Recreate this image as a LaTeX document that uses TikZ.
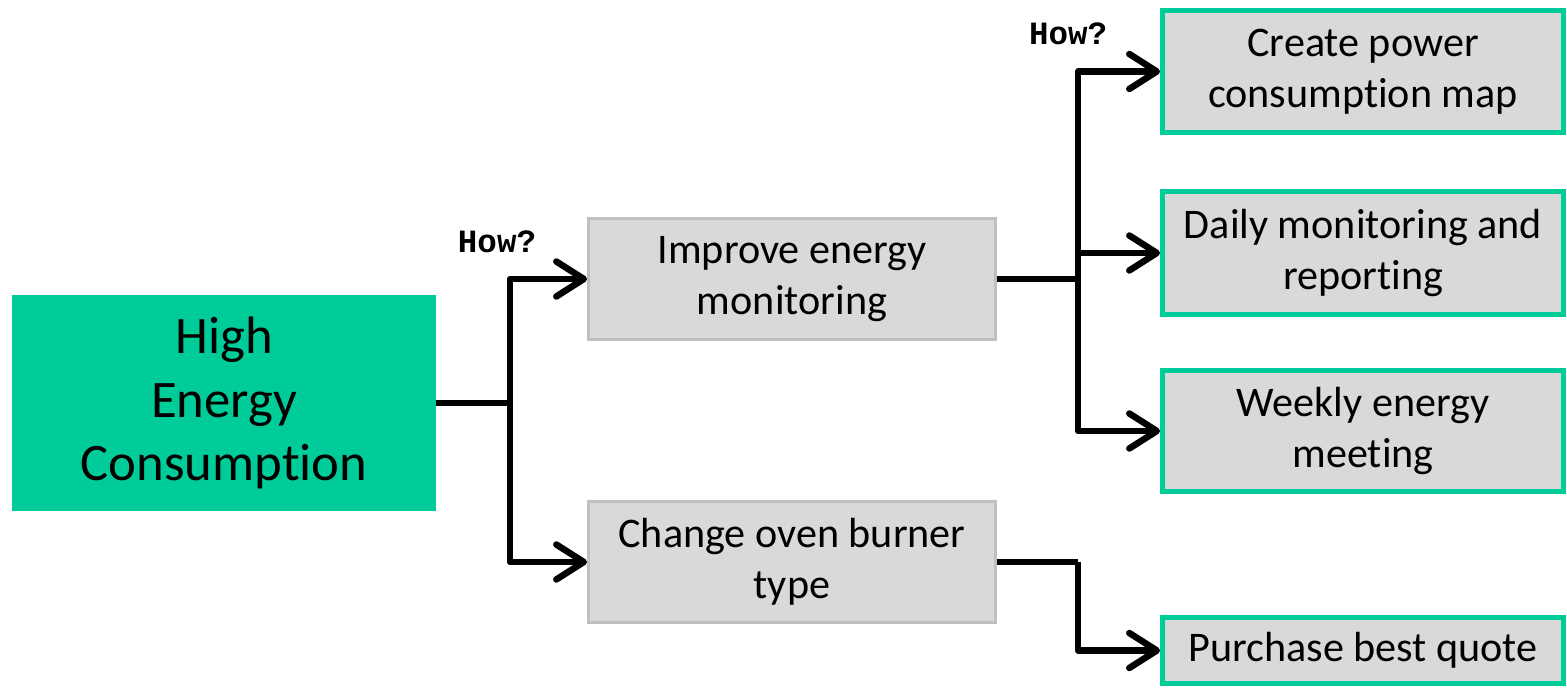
\documentclass[tikz,border=0pt]{standalone}
\usepackage{fontspec}
\setmainfont{Carlito}[Ligatures={NoCommon}]
\newfontfamily\howfont{Liberation Mono}
\usetikzlibrary{arrows.meta, positioning}
\definecolor{hecTeal}{RGB}{0,204,153}
\definecolor{hecGray}{RGB}{217,217,217}
\definecolor{hecEdge}{RGB}{191,191,191}
\newcommand{\howq}{\howfont\bfseries How?}

\begin{document}
\begin{tikzpicture}[x=0.02cm, y=-0.02cm,
    rootbox/.style={fill=hecTeal, minimum width=8.48cm, minimum height=4.32cm,
      align=center, font=\fontsize{30}{36}\selectfont, inner sep=0pt},
    midbox/.style={draw=hecEdge, line width=0.06cm, fill=hecGray, minimum width=8.14cm,
      minimum height=2.42cm, align=center, font=\fontsize{24}{29}\selectfont, inner sep=0pt},
    leafbox/.style={draw=hecTeal, line width=0.1cm, fill=hecGray, minimum width=8.02cm,
      align=center, font=\fontsize{24}{29}\selectfont, inner sep=0pt},
    how/.style={font=\fontsize{18.5}{22}\selectfont},
    arr/.style={-{Straight Barb[length=0.55cm, width=0.7cm, round]}, line width=0.13cm,
      line join=round},
    wire/.style={line width=0.13cm, line join=round}
  ]
    \useasboundingbox (0,0) rectangle (1567,688);
    % boxes
    \node[rootbox] (root) at (224,403) {High\\Energy\\Consumption};
    \node[midbox] (imp) at (792,279) {Improve energy\\monitoring};
    \node[midbox] (chg) at (792,562) {Change oven burner\\type};
    \node[leafbox, minimum height=2.44cm] (map) at (1363,71.5) {Create power\\consumption map};
    \node[leafbox, minimum height=2.46cm] (daily) at (1363,253) {Daily monitoring and\\reporting};
    \node[leafbox, minimum height=2.42cm] (weekly) at (1363,431) {Weekly energy\\meeting};
    \node[leafbox, minimum height=1.32cm] (quote) at (1363,650.5) {Purchase best quote};
    % how? labels
    \node[how] (how1) at (497,242) {\howq};
    \node[how] (how2) at (1068,34) {\howq};
    % connectors
    \coordinate (fork1) at (510,403);
    \coordinate (fork2) at (1078,279);
    \coordinate (fork3) at (1078,562);
    \draw[wire] (root.east) -- (fork1);
    \draw[arr] (fork1) |- (imp.west);
    \draw[arr] (fork1) |- (chg.west);
    \draw[wire] (imp.east) -- (fork2);
    \draw[arr] (fork2) |- (map.west);
    \draw[arr] (fork2) |- (daily.west);
    \draw[arr] (fork2) |- (weekly.west);
    \draw[wire] (chg.east) -- (fork3);
    \draw[arr] (fork3) |- (quote.west);
\end{tikzpicture}
\end{document}
